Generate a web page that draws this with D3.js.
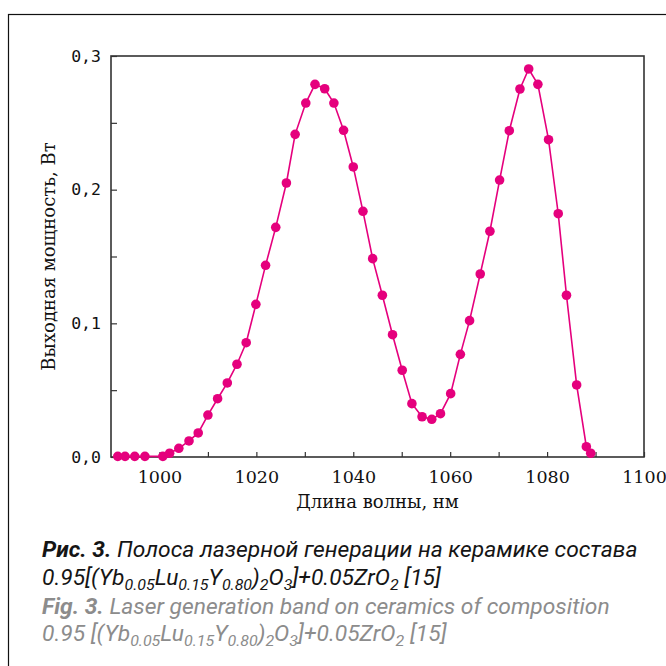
<!DOCTYPE html>
<html>
<head>
<meta charset="utf-8">
<script src="https://cdn.jsdelivr.net/npm/d3@7"></script>
<style>
  html, body { margin: 0; padding: 0; background: #fff; }
  svg { display: block; }
</style>
</head>
<body>
<script>
// ---- data ----
const wavelength = [991.4, 992.9, 994.9, 997.0, 1000.7, 1002.1, 1004.0, 1006.1, 1008.0, 1010.0,
  1012.0, 1014.0, 1016.0, 1017.9, 1019.9, 1021.9, 1024.0, 1026.2, 1028.0, 1030.2,
  1032.1, 1034.1, 1036.0, 1038.0, 1040.0, 1042.0, 1044.0, 1046.0, 1048.1, 1050.1,
  1052.1, 1054.2, 1056.2, 1058.0, 1060.1, 1062.1, 1064.0, 1066.2, 1068.2, 1070.2,
  1072.2, 1074.4, 1076.2, 1078.1, 1080.3, 1082.3, 1084.0, 1086.1, 1088.1, 1089.0];
const power = [0.0005, 0.0005, 0.0005, 0.0005, 0.0005, 0.0028, 0.0065, 0.012, 0.018, 0.0314,
  0.0436, 0.0554, 0.0694, 0.0855, 0.1142, 0.1434, 0.1718, 0.205, 0.2414, 0.2648,
  0.2788, 0.2755, 0.2648, 0.2444, 0.217, 0.1838, 0.1484, 0.121, 0.0915, 0.0649,
  0.0399, 0.0301, 0.0282, 0.0324, 0.0474, 0.0768, 0.102, 0.1369, 0.1689, 0.2072,
  0.2441, 0.2753, 0.2903, 0.2788, 0.2374, 0.182, 0.121, 0.0539, 0.0077, 0.0028];
const xTickValues = [1000, 1010, 1020, 1030, 1040, 1050, 1060, 1070, 1080, 1090, 1100];
const xTickLabels = ["1000", "", "1020", "", "1040", "", "1060", "", "1080", "", "1100"];
const yTickValues = [0, 0.05, 0.1, 0.15, 0.2, 0.25, 0.3];
const yTickLabels = ["0,0", "", "0,1", "", "0,2", "", "0,3"];
const xTitle = "Длина волны, нм";
const yTitle = "Выходная мощность, Вт";
const captionRu = [
  [{t: "Рис. 3.", b: true}, {t: " Полоса лазерной генерации на керамике состава"}],
  [{t: "0.95[(Yb"}, {t: "0.05", s: true}, {t: "Lu"}, {t: "0.15", s: true}, {t: "Y"}, {t: "0.80", s: true},
   {t: ")"}, {t: "2", s: true}, {t: "O"}, {t: "3", s: true}, {t: "]+0.05ZrO"}, {t: "2", s: true}, {t: " [15]"}]
];
const captionEn = [
  [{t: "Fig. 3.", b: true}, {t: " Laser generation band on ceramics of composition"}],
  [{t: "0.95 [(Yb"}, {t: "0.05", s: true}, {t: "Lu"}, {t: "0.15", s: true}, {t: "Y"}, {t: "0.80", s: true},
   {t: ")"}, {t: "2", s: true}, {t: "O"}, {t: "3", s: true}, {t: "]+0.05ZrO"}, {t: "2", s: true}, {t: " [15]"}]
];

const W = 666, H = 666;
const margin = {left: 111, top: 56, right: 666 - 644, bottom: 666 - 457};
const svg = d3.select("body").append("svg").attr("width", W).attr("height", H);

// outer frame
svg.append("rect").attr("x", 8.5).attr("y", 14.5).attr("width", 700).attr("height", 700)
  .attr("fill", "none").attr("stroke", "#111").attr("stroke-width", 1.2);

const x = d3.scaleLinear().domain([990, 1100]).range([margin.left, W - margin.right]);
const y = d3.scaleLinear().domain([0, 0.3]).range([H - margin.bottom, margin.top]);

// plot frame
svg.append("rect")
  .attr("x", x.range()[0]).attr("y", y.range()[1])
  .attr("width", x.range()[1] - x.range()[0]).attr("height", y.range()[0] - y.range()[1])
  .attr("fill", "none").attr("stroke", "#333").attr("stroke-width", 1.6);

// axes with inward ticks
const xAxis = d3.axisBottom(x).tickValues(xTickValues)
  .tickFormat((d, i) => xTickLabels[i]).tickSizeInner(-5).tickSizeOuter(0).tickPadding(14);
const gx = svg.append("g").attr("transform", `translate(0,${y.range()[0]})`).call(xAxis);
gx.select(".domain").remove();
gx.selectAll(".tick line").attr("stroke", "#333").attr("stroke-width", 1.2);
gx.selectAll(".tick text").attr("font-family", "DejaVu Serif").attr("font-size", 17.5).attr("fill", "#111");

const yAxis = d3.axisLeft(y).tickValues(yTickValues)
  .tickFormat((d, i) => yTickLabels[i]).tickSizeInner(-6).tickSizeOuter(0).tickPadding(10);
const gy = svg.append("g").attr("transform", `translate(${x.range()[0]},0)`).call(yAxis);
gy.select(".domain").remove();
gy.selectAll(".tick line").attr("stroke", "#333").attr("stroke-width", 1.2);
gy.selectAll(".tick text").attr("font-family", "DejaVu Sans Mono").attr("font-size", 16.5).attr("fill", "#111");

// axis titles
svg.append("text").attr("x", (x.range()[0] + x.range()[1]) / 2).attr("y", 508)
  .attr("text-anchor", "middle").attr("font-family", "DejaVu Serif").attr("font-size", 18)
  .attr("fill", "#111").text(xTitle);
svg.append("text").attr("transform", `translate(55,${(y.range()[0] + y.range()[1]) / 2}) rotate(-90)`)
  .attr("text-anchor", "middle").attr("font-family", "DejaVu Serif").attr("font-size", 18)
  .attr("fill", "#111").text(yTitle);

// series
const pts = wavelength.map((w, i) => [w, power[i]]);
const color = "#e5007d";
svg.append("path").datum(pts)
  .attr("d", d3.line().x(d => x(d[0])).y(d => y(d[1])))
  .attr("fill", "none").attr("stroke", color).attr("stroke-width", 1.6);
svg.append("g").selectAll("circle").data(pts).join("circle")
  .attr("cx", d => x(d[0])).attr("cy", d => y(d[1])).attr("r", 4.8).attr("fill", color);

// caption (slightly condensed italic sans)
const cap = svg.append("g");
function captionLine(segs, py, fill, fs) {
  const t = cap.append("text").attr("x", 0).attr("y", py)
    .attr("font-family", "Roboto").attr("font-style", "italic")
    .attr("font-size", fs).attr("fill", fill);
  let shifted = false;
  segs.forEach(sg => {
    const ts = t.append("tspan").text(sg.t);
    if (sg.b) ts.attr("font-weight", "bold");
    if (sg.s) { ts.attr("font-size", fs * 0.7).attr("dy", shifted ? 0 : fs * 0.22); shifted = true; }
    else if (shifted) { ts.attr("dy", -fs * 0.22); shifted = false; }
  });
  return t;
}
const fs = 21.5;
const l1 = captionLine(captionRu[0], 557, "#151515", fs);
const sx = 596 / l1.node().getComputedTextLength();
cap.attr("transform", `translate(42,0) scale(${sx},1)`);
captionLine(captionRu[1], 585, "#151515", fs);
captionLine(captionEn[0], 614, "#8c8c8c", fs);
captionLine(captionEn[1], 641, "#8c8c8c", fs);
</script>
</body>
</html>
